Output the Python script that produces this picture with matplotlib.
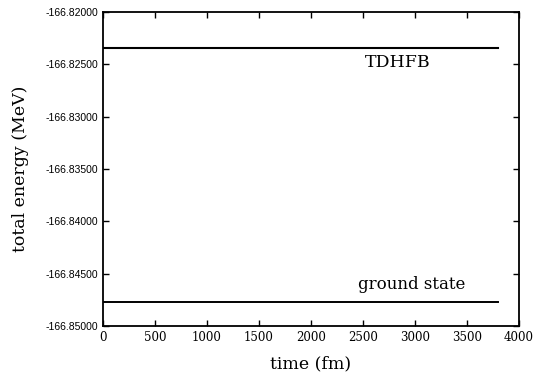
import matplotlib
matplotlib.use("Agg")
import matplotlib.pyplot as plt

# TDHFB total energy (small steps seen in the curve)
t_tdhfb = [0, 1500, 1500, 3600, 3600, 3800]
e_tdhfb = [-166.82345, -166.82345, -166.82343, -166.82343, -166.82340, -166.82340]

# ground state energy
t_gs = [0, 3800]
e_gs = [-166.84768, -166.84768]

xticks = [0, 500, 1000, 1500, 2000, 2500, 3000, 3500, 4000]
yticks = [-166.85, -166.845, -166.84, -166.835, -166.83, -166.825, -166.82]

fig = plt.figure(figsize=(5.33, 3.75), dpi=100)
ax = fig.add_axes([103/533, 1-326/375, 416/533, 314/375])

ax.plot(t_tdhfb, e_tdhfb, color='black', lw=1.5)
ax.plot(t_gs, e_gs, color='black', lw=1.4)

ax.text(2830, -166.82478, 'TDHFB', family='DejaVu Serif', fontsize=12.5,
        ha='center', va='center')
ax.text(2970, -166.84608, 'ground state', family='DejaVu Serif', fontsize=12,
        ha='center', va='center')

ax.set_xlim(0, 4000)
ax.set_ylim(-166.85, -166.82)
ax.set_xticks(xticks)
ax.set_yticks(yticks)
ax.set_yticklabels(['%.5f' % v for v in yticks], family='Liberation Sans', fontsize=7.5)
ax.set_xticklabels([str(v) for v in xticks], family='DejaVu Serif', fontsize=8.5)
ax.tick_params(direction='in', top=True, right=True, length=4, width=1)
for s in ax.spines.values():
    s.set_linewidth(1.3)

ax.set_xlabel('time (fm)', family='DejaVu Serif', fontsize=12.5, labelpad=8)
ax.set_ylabel('total energy (MeV)', family='DejaVu Serif', fontsize=12.5, labelpad=12)

fig.savefig('out.png', dpi=100)
